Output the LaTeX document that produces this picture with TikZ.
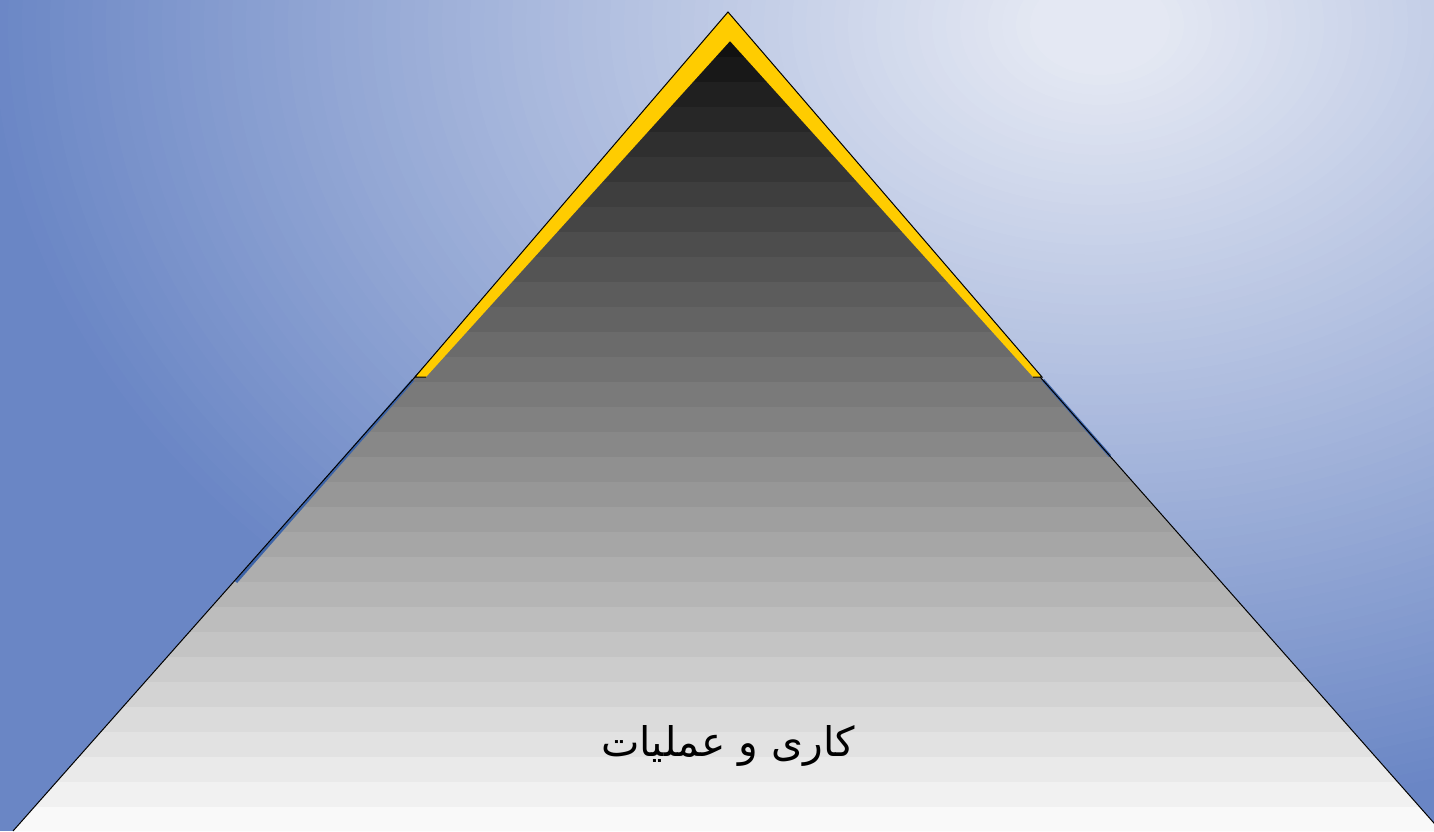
\documentclass[tikz,border=0pt]{standalone}
\usepackage{fontspec}
\newfontfamily\arabicfont[Script=Arabic]{DejaVu Sans}
\TeXXeTstate=1
\definecolor{bgblue}{HTML}{6A86C5}
\definecolor{bglight}{HTML}{E4E8F3}
\definecolor{gold}{HTML}{FFCC00}
\definecolor{stripblue}{HTML}{3D64A8}
\tikzset{
  edge/.style={draw=black, line width=0.5pt, line join=miter},
  goldband/.style={fill=gold},
  label/.style={font=\arabicfont\fontsize{20.4}{24}\selectfont, text=black, inner sep=0pt}
}
\begin{document}
\begin{tikzpicture}[x=0.5pt,y=-0.5pt]
\useasboundingbox (0,0) rectangle (1434,831);
\clip (0,0) rectangle (1434,831);
% background: stepped elliptical gradient
\fill[bgblue] (0,0) rectangle (1434,831);
\foreach \i in {80,...,1} {
  \pgfmathsetmacro\s{\i/80}
  \pgfmathsetmacro\t{max(0,(\s-0.06)/0.94)*100}
  \fill[bgblue!\t!bglight] (1100,25) ellipse [x radius={560pt*\s}, y radius={400pt*\s}];
}
% pyramid bands
\begin{scope}
\clip (728,23.5) -- (13,831) -- (1441,831) -- cycle;
\foreach \k in {0,...,32} {
  \pgfmathtruncatemacro\g{10+\k*239/32}
  \definecolor{bandc}{RGB}{\g,\g,\g}
  \fill[bandc] (0,{7+25*\k}) rectangle (1434,{32.6+25*\k});
}
\end{scope}
% blue shadow strips
\draw[stripblue, line width=1.5pt] (413,380) -- (236,582);
\draw[stripblue, line width=1.5pt] (1043,380) -- (1110,456);
% pyramid outline
\coordinate (apex) at (728,23.5);
\coordinate (bl) at (13,831);
\coordinate (br) at (1441,831);
\draw[edge] (bl) -- (apex) -- (br);
% gold chevron
\coordinate (go) at (728,12);
\coordinate (gi) at (730,41);
\coordinate (gl) at (415,377);
\coordinate (gli) at (426,377);
\coordinate (gr) at (1042,377);
\coordinate (gri) at (1033,377);
\fill[goldband] (gl) -- (go) -- (gr) -- (gri) -- (gi) -- (gli) -- cycle;
\draw[edge] (gli) -- (gl) -- (go) -- (gr) -- (gri);
% label
\node[label] (t) at (728,746) {\beginR کاری و عملیات\endR};
\end{tikzpicture}
\end{document}
